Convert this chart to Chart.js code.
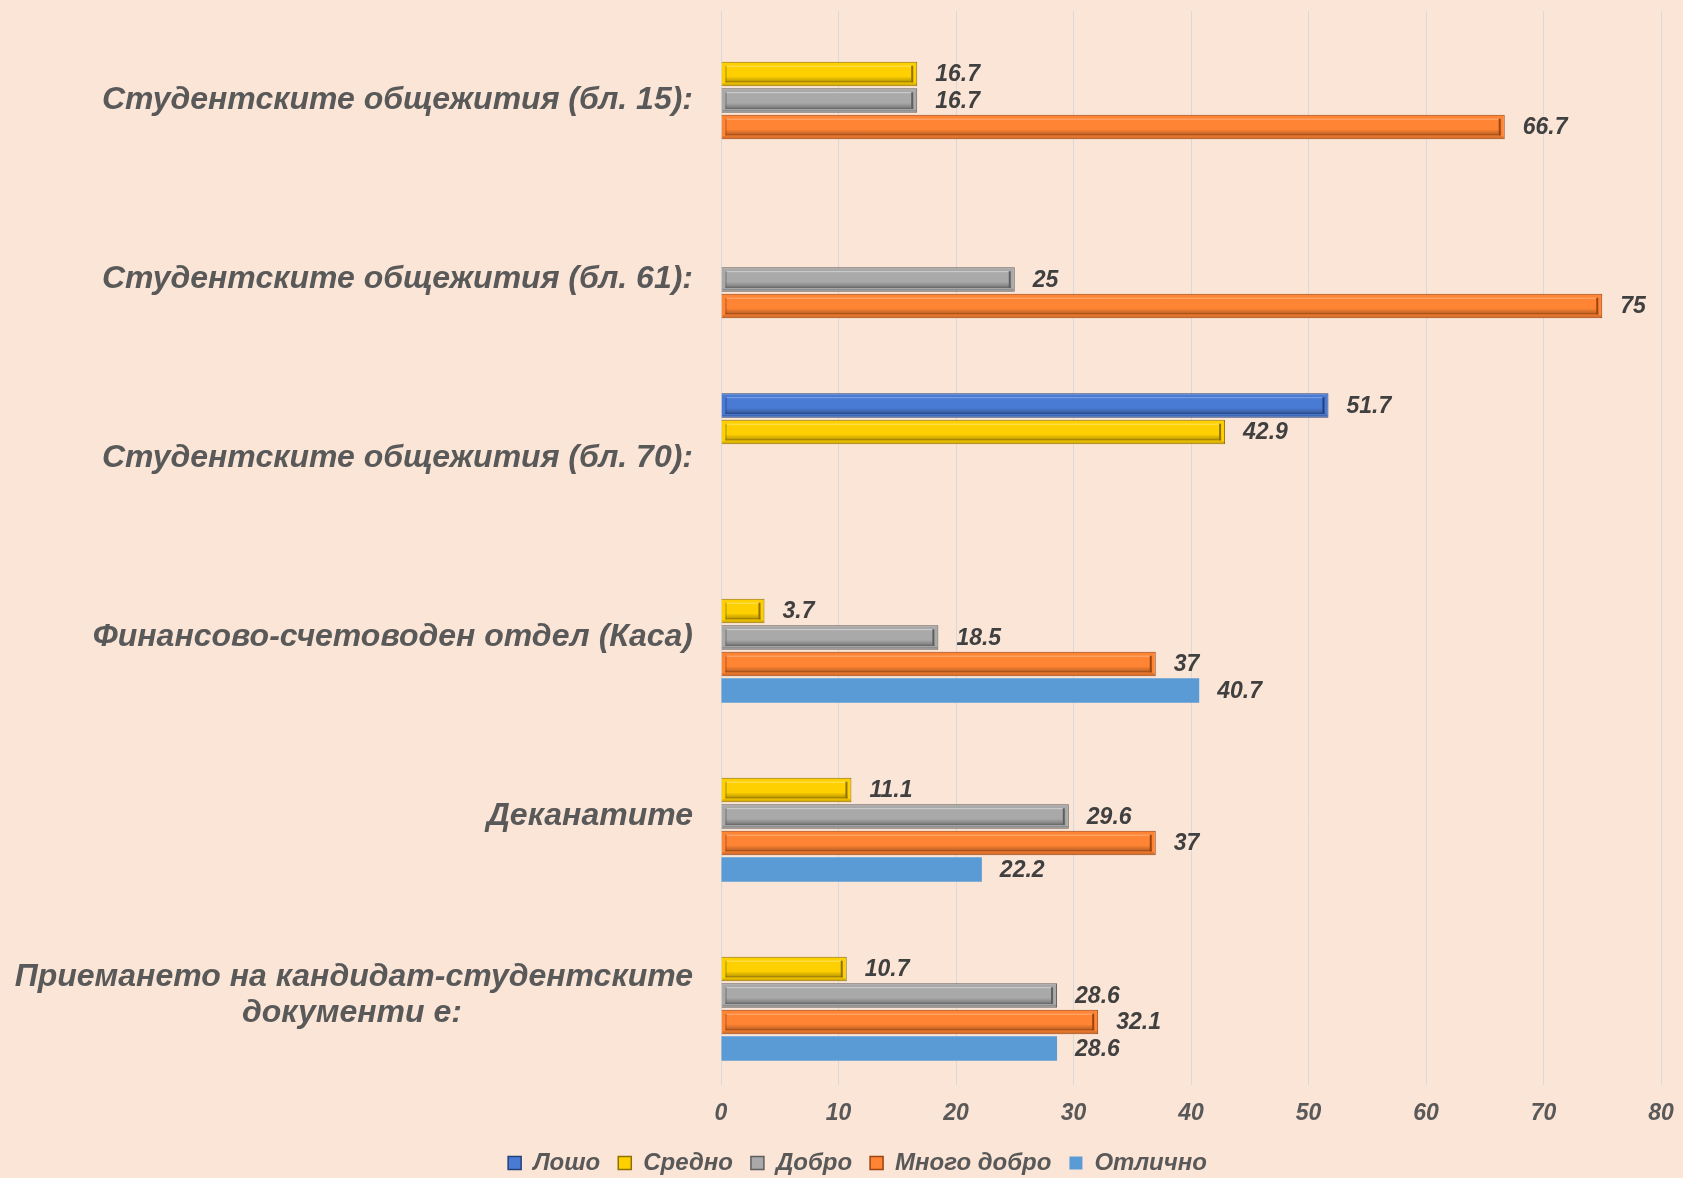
<!DOCTYPE html>
<html><head><meta charset="utf-8">
<script src="https://cdn.jsdelivr.net/npm/chart.js@4/dist/chart.umd.min.js"></script>
<style>html,body{margin:0;padding:0;background:#FBE5D7;}#wrap{width:1683px;height:1178px;}</style>
</head><body><div id="wrap"><canvas id="c" width="1683" height="1178"></canvas></div>
<script>
const categories = [
  ['Студентските общежития (бл. 15):'],
  ['Студентските общежития (бл. 61):'],
  ['Студентските общежития (бл. 70):'],
  ['Финансово-счетоводен отдел (Каса)'],
  ['Деканатите'],
  ['Приемането на кандидат-студентските', 'документи е:']
];
const seriesNames = ['Лошо', 'Средно', 'Добро', 'Много добро', 'Отлично'];
const loshoValues      = [null, null, 51.7, null, null, null];
const srednoValues     = [16.7, null, 42.9, 3.7, 11.1, 10.7];
const dobroValues      = [16.7, 25, null, 18.5, 29.6, 28.6];
const mnogoDobroValues = [66.7, 75, null, 37, 37, 32.1];
const otlichnoValues   = [null, null, null, 40.7, 22.2, 28.6];
const xTickValues = [0, 10, 20, 30, 40, 50, 60, 70, 80];

const FONT = "'Liberation Sans', Arial, sans-serif";
const colors = ['#4A7BD4', '#FFD000', '#A9A9A9', '#FF8433', '#5B9BD5'];
const darks  = ['#23407A', '#8F7000', '#5E5E5E', '#9A4410', '#5B9BD5'];
const lights = ['#7FA3E6', '#FFE466', '#D0D0D0', '#FFB07A', '#5B9BD5'];
const bevel  = [true, true, true, true, false];
const allValues = [loshoValues, srednoValues, dobroValues, mnogoDobroValues, otlichnoValues];

// Center the second line of multi-line labels under the first (pad with spaces, right-aligned text)
const mctx = document.createElement('canvas').getContext('2d');
mctx.font = "italic bold 32px " + FONT;
const labels = categories.map(lines => {
  if (lines.length < 2) return lines[0];
  const w1 = mctx.measureText(lines[0]).width;
  const w2 = mctx.measureText(lines[1]).width;
  const sp = mctx.measureText(' ').width;
  const n = Math.max(0, Math.round((w1 - w2) / 2 / sp));
  return [lines[0], lines[1] + ' '.repeat(n)];
});

const datasets = seriesNames.map((name, i) => ({
  label: name,
  data: allValues[i],
  backgroundColor: colors[i],
  borderColor: darks[i],
  borderWidth: bevel[i] ? 1 : 0,
  bevel: bevel[i],
  light: lights[i],
  dark: darks[i],
  categoryPercentage: 0.74,
  barPercentage: 0.93
}));

const legendShift = {
  id: 'legendShift',
  afterLayout(chart) {
    if (chart.legend) { chart.legend.left += 27; chart.legend.right += 27; }
  }
};

const bevelPlugin = {
  id: 'bevel',
  afterDatasetsDraw(chart) {
    const ctx = chart.ctx;
    ctx.save();
    chart.data.datasets.forEach((ds, di) => {
      const meta = chart.getDatasetMeta(di);
      if (meta.hidden) return;
      meta.data.forEach((bar, i) => {
        const v = ds.data[i];
        if (v == null) return;
        const p = bar.getProps(['x', 'y', 'base', 'height'], true);
        const l = Math.min(p.base, p.x), r = Math.max(p.base, p.x);
        const t = p.y - p.height / 2, b = p.y + p.height / 2;
        if (ds.bevel) {
          const k = 4;
          const g = ctx.createLinearGradient(0, b - k - 6, 0, b - k);
          g.addColorStop(0, 'rgba(0,0,0,0)');
          g.addColorStop(1, 'rgba(0,0,0,0.3)');
          ctx.fillStyle = g;
          ctx.fillRect(l + k, b - k - 6, r - l - 2 * k, 6);
          ctx.lineWidth = 1;
          ctx.strokeStyle = ds.light;
          ctx.beginPath(); ctx.moveTo(l + k, t + k + 0.5); ctx.lineTo(r - k, t + k + 0.5); ctx.stroke();
          ctx.strokeStyle = ds.dark;
          ctx.globalAlpha = 0.7;
          ctx.beginPath(); ctx.moveTo(l + k + 0.5, t + k); ctx.lineTo(l + k + 0.5, b - k); ctx.stroke();
          ctx.beginPath(); ctx.moveTo(l + k, b - k - 0.5); ctx.lineTo(r - k, b - k - 0.5); ctx.stroke();
          ctx.globalAlpha = 1;
          ctx.lineWidth = 2;
          ctx.beginPath(); ctx.moveTo(r - k - 1, t + k); ctx.lineTo(r - k - 1, b - k); ctx.stroke();
          ctx.fillStyle = 'rgba(0,0,0,0.15)';
          ctx.fillRect(l + 1, b - 3, r - l - 2, 2);
        }
      });
    });
    ctx.font = "italic bold 23px " + FONT;
    ctx.fillStyle = '#404040';
    ctx.textAlign = 'left';
    ctx.textBaseline = 'middle';
    chart.data.datasets.forEach((ds, di) => {
      const meta = chart.getDatasetMeta(di);
      meta.data.forEach((bar, i) => {
        const v = ds.data[i];
        if (v == null) return;
        const p = bar.getProps(['x', 'y'], true);
        ctx.fillText(String(v), p.x + 18, p.y + 1);
      });
    });
    ctx.restore();
  }
};

new Chart(document.getElementById('c'), {
  type: 'bar',
  data: { labels: labels, datasets: datasets },
  plugins: [bevelPlugin, legendShift],
  options: {
    indexAxis: 'y',
    responsive: false,
    animation: false,
    layout: { padding: { top: 11, right: 22, left: 0, bottom: -7 } },
    plugins: {
      tooltip: { enabled: false },
      legend: {
        position: 'bottom',
        labels: {
          font: { family: FONT, size: 24, style: 'italic', weight: 'bold' },
          color: '#595959',
          boxWidth: 13,
          boxHeight: 13,
          padding: 18,
          generateLabels(chart) {
            return chart.data.datasets.map((ds, i) => ({
              text: ds.label,
              fillStyle: colors[i],
              strokeStyle: bevel[i] ? darks[i] : colors[i],
              lineWidth: bevel[i] ? 1.5 : 0,
              datasetIndex: i,
              hidden: false,
              fontColor: '#595959'
            }));
          }
        }
      }
    },
    scales: {
      x: {
        min: 0,
        max: 80,
        afterBuildTicks(scale) { scale.ticks = xTickValues.map(v => ({ value: v })); },
        afterFit(scale) { scale.height = 48; scale.paddingLeft = 0; scale.paddingRight = 0; },
        grid: { color: '#D9D9D9', lineWidth: 1, drawTicks: false },
        border: { display: false },
        ticks: {
          padding: 15,
          color: '#595959',
          font: { family: FONT, size: 23, style: 'italic', weight: 'bold' }
        }
      },
      y: {
        afterFit(scale) { scale.width = 721; scale.paddingTop = 0; scale.paddingBottom = 0; },
        grid: { display: false },
        border: { display: false },
        ticks: {
          padding: 20,
          color: '#595959',
          font: { family: FONT, size: 32, style: 'italic', weight: 'bold', lineHeight: 1.12 }
        }
      }
    }
  }
});
</script>
</body></html>
